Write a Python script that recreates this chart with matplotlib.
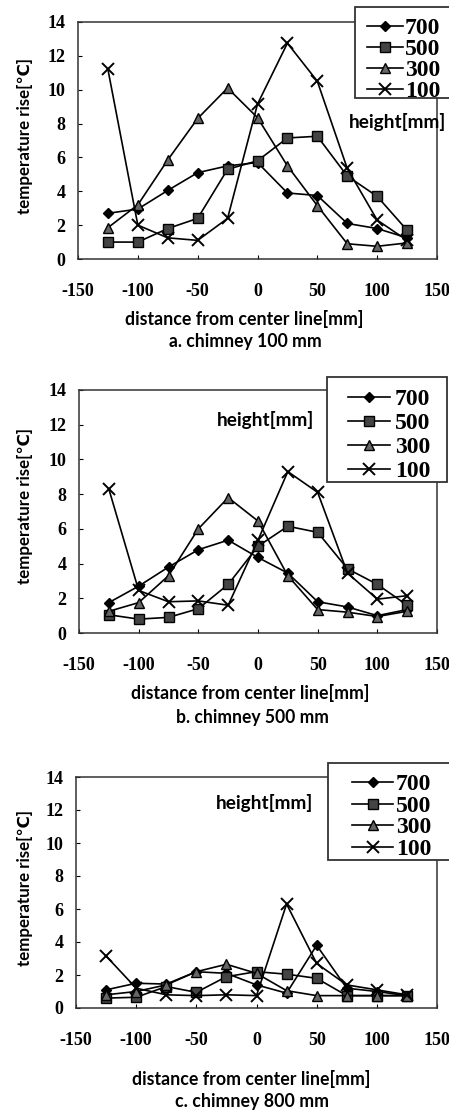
import matplotlib
matplotlib.use("Agg")
import matplotlib.pyplot as plt
from matplotlib.patches import Rectangle
from matplotlib.lines import Line2D

plt.rcParams['font.family'] = ['Liberation Serif', 'DejaVu Serif']
plt.rcParams['font.weight'] = 'bold'
plt.rcParams['axes.unicode_minus'] = False

W, H = 449, 1112
LABEL_FONT = ['Lato', 'DejaVu Sans']

distance = [-125, -100, -75, -50, -25, 0, 25, 50, 75, 100, 125]
heights = ["700", "500", "300", "100"]

# panel a: chimney 100 mm
a_700 = [2.7, 2.95, 4.05, 5.1, 5.5, 5.7, 3.9, 3.75, 2.1, 1.8, 1.25]
a_500 = [1.0, 1.0, 1.8, 2.4, 5.3, 5.8, 7.15, 7.25, 4.9, 3.7, 1.7]
a_300 = [1.85, 3.2, 5.85, 8.3, 10.1, 8.35, 5.5, 3.15, 0.9, 0.75, 0.95]
a_100 = [11.2, 2.0, 1.25, 1.1, 2.4, 9.15, 12.75, 10.5, 5.35, 2.3, 1.1]

# panel b: chimney 500 mm
b_700 = [1.75, 2.7, 3.8, 4.8, 5.35, 4.35, 3.45, 1.8, 1.5, 1.0, 1.35]
b_500 = [1.05, 0.8, 0.9, 1.4, 2.8, 5.0, 6.15, 5.8, 3.7, 2.8, 1.6]
b_300 = [1.25, 1.75, 3.3, 6.0, 7.8, 6.45, 3.3, 1.35, 1.2, 0.95, 1.25]
b_100 = [8.3, 2.45, 1.8, 1.85, 1.6, 5.35, 9.3, 8.1, 3.45, 1.95, 2.15]

# panel c: chimney 800 mm
c_700 = [1.1, 1.5, 1.45, 2.2, 2.1, 1.4, 0.9, 3.8, 1.2, 1.0, 0.75]
c_500 = [0.6, 0.65, 1.3, 0.95, 1.9, 2.2, 2.05, 1.8, 0.75, 0.75, 0.75]
c_300 = [0.8, 1.0, 1.4, 2.2, 2.65, 2.1, 1.05, 0.75, 0.75, 0.75, 0.75]
c_100 = [3.15, 1.2, 0.8, 0.75, 0.8, 0.75, 6.3, 2.7, 1.4, 1.1, 0.8]

panels = [
    ("a. chimney 100 mm", [a_700, a_500, a_300, a_100]),
    ("b. chimney 500 mm", [b_700, b_500, b_300, b_100]),
    ("c. chimney 800 mm", [c_700, c_500, c_300, c_100]),
]

styles = [
    dict(marker='D', markersize=5.5, markerfacecolor='black', markeredgecolor='black'),
    dict(marker='s', markersize=6.5, markerfacecolor='#444444', markeredgecolor='black'),
    dict(marker='^', markersize=7, markerfacecolor='#666666', markeredgecolor='black'),
    dict(marker='x', markersize=8, markeredgecolor='black', markeredgewidth=1.4),
]

# pixel layout of each panel (from top-left of the image)
# key = (handle x0, handle x1, text x, first row y, last row y)
layout = [
    dict(ax=(78, 22, 437, 259), box=(355, 7, 460, 98), key=(367, 403, 405, 26, 89),
         ht=(398, 122), xl=(244, 319), cap=(245, 342)),
    dict(ax=(79, 390, 437, 633), box=(327, 377, 447, 482), key=(348, 390, 395, 397, 469),
         ht=(266, 420), xl=(250, 693), cap=(252, 718)),
    dict(ax=(76, 777, 437, 1008), box=(328, 763, 460, 860), key=(352, 393, 396, 782, 847),
         ht=(265, 803), xl=(251, 1079), cap=(252, 1102)),
]


def fig_xy(px, py):
    return px / W, 1 - py / H


fig = plt.figure(figsize=(W / 100, H / 100), dpi=100)
renderer = fig.canvas.get_renderer()


def fit_text(x, y, s, width_px, rotation=0):
    t = fig.text(*fig_xy(x, y), s, fontsize=10, fontweight='bold', family=LABEL_FONT,
                 ha='center', va='center', rotation=rotation)
    bb = t.get_window_extent(renderer)
    cur = bb.height if rotation else bb.width
    t.set_fontsize(10 * width_px / cur)
    return t


def draw_key(lay):
    # boxed key in the top right, placed like the original's
    bl, bt, br, bb = lay["box"]
    fig.add_artist(Rectangle(fig_xy(bl, bb), (br - bl) / W, (bb - bt) / H,
                             transform=fig.transFigure, facecolor='white',
                             edgecolor='#333333', linewidth=1.3, zorder=5))
    hx0, hx1, tx, y0, y1 = lay["key"]
    n = len(heights)
    for i, (name, st) in enumerate(zip(heights, styles)):
        y = y0 + (y1 - y0) * i / (n - 1)
        fig.add_artist(Line2D([hx0 / W, hx1 / W], [1 - y / H] * 2, color='black',
                              linewidth=1.2, transform=fig.transFigure, zorder=6))
        fig.add_artist(Line2D([(hx0 + hx1) / 2 / W], [1 - y / H], color='black',
                              transform=fig.transFigure, zorder=6, **st))
        fig.text(tx / W, 1 - y / H, name, fontsize=17, fontweight='bold',
                 family='Liberation Serif', ha='left', va='center_baseline', zorder=7)


for (caption, series), lay in zip(panels, layout):
    l, t, r, b = lay["ax"]
    ax = fig.add_axes([l / W, 1 - b / H, (r - l) / W, (b - t) / H])
    for vals, name, st in zip(series, heights, styles):
        ax.plot(distance, vals, color='black', linewidth=1.2, label=name, **st)

    ax.set_xlim(-150, 150)
    ax.set_ylim(0, 14)
    ax.set_xticks(range(-150, 151, 50))
    ax.set_yticks(range(0, 15, 2))
    ax.tick_params(axis='x', direction='in', length=3, pad=17, labelsize=13)
    ax.tick_params(axis='y', direction='in', length=3, pad=9, labelsize=13)
    for lab in ax.get_xticklabels() + ax.get_yticklabels():
        lab.set_fontweight('bold')
    for sp in ax.spines.values():
        sp.set_linewidth(1.1)
        sp.set_color('#333333')

    draw_key(lay)

    fit_text(25, (t + b) / 2 - 5, "temperature rise[℃]", 156, rotation=90)
    fit_text(*lay["ht"], "height[mm]", 97)
    fit_text(*lay["xl"], "distance from center line[mm]", 238)
    fit_text(*lay["cap"], caption, 153)

fig.savefig("out.png", dpi=100)
